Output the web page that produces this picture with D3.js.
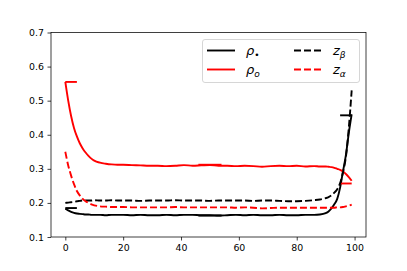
<!DOCTYPE html>
<html>
<head>
<meta charset="utf-8">
<script src="https://cdn.jsdelivr.net/npm/d3@7"></script>
<style>
  body { margin: 0; background: #fff; }
  svg { display: block; }
  .tick text { font-family: "DejaVu Sans", sans-serif; font-size: 9.4px; fill: #000; }
  .leg text { font-family: "DejaVu Sans", sans-serif; font-style: italic; font-size: 13px; }
</style>
</head>
<body>
<div id="chart"></div>
<script>
// sample positions (step index)
const xs = [0,1,2,3,4,5,6,7,8,9,10,12,14,16,18,20,23,26,29,32,35,38,41,44,47,50,53,56,59,62,65,68,71,74,77,80,83,86,88,90,91,92,93,94,95,96,97,98,99];

const rhoStar = [0.183,0.178,0.174,0.171,0.169,0.168,0.167,0.166,0.166,0.165,0.165,0.165,0.164,0.165,0.165,0.165,0.164,0.165,0.164,0.164,0.165,0.164,0.165,0.165,0.164,0.164,0.163,0.164,0.165,0.164,0.165,0.164,0.164,0.165,0.164,0.164,0.165,0.165,0.166,0.170,0.175,0.184,0.196,0.212,0.245,0.293,0.340,0.405,0.460];
const rhoO = [0.555,0.500,0.455,0.420,0.395,0.375,0.360,0.348,0.338,0.330,0.324,0.318,0.315,0.313,0.312,0.312,0.311,0.310,0.309,0.309,0.308,0.309,0.311,0.309,0.310,0.311,0.309,0.309,0.308,0.309,0.308,0.306,0.308,0.309,0.308,0.309,0.307,0.308,0.307,0.307,0.306,0.305,0.303,0.300,0.297,0.292,0.285,0.276,0.265];
const zBeta = [0.200,0.201,0.202,0.203,0.205,0.206,0.207,0.207,0.207,0.207,0.208,0.207,0.207,0.208,0.207,0.207,0.207,0.206,0.207,0.207,0.207,0.208,0.207,0.207,0.207,0.206,0.207,0.207,0.207,0.207,0.206,0.207,0.207,0.206,0.205,0.205,0.206,0.208,0.210,0.214,0.217,0.222,0.230,0.240,0.258,0.290,0.335,0.420,0.530];
const zAlpha = [0.350,0.310,0.280,0.255,0.235,0.222,0.212,0.205,0.200,0.196,0.193,0.190,0.189,0.188,0.188,0.188,0.187,0.187,0.187,0.187,0.187,0.188,0.187,0.187,0.187,0.187,0.187,0.187,0.186,0.187,0.186,0.184,0.185,0.186,0.186,0.186,0.186,0.186,0.186,0.186,0.186,0.186,0.186,0.187,0.187,0.188,0.190,0.192,0.195];

// short level marks at start / middle / end
const segStart = [0, 46, 95];
const segEnd = [4, 54, 99];
const rhoStarSeg = [0.185, 0.163, 0.457];
const rhoOSeg = [0.555, 0.312, 0.257];

const xTicks = [0, 20, 40, 60, 80, 100];
const yTicks = [0.1, 0.2, 0.3, 0.4, 0.5, 0.6, 0.7];

const W = 407, H = 271;
const m = {left: 51, right: 41, top: 32.5, bottom: 34};

const svg = d3.select("#chart").append("svg")
  .attr("width", W).attr("height", H);

const x = d3.scaleLinear().domain([-4.95, 103.95]).range([m.left, W - m.right]);
const y = d3.scaleLinear().domain([0.1, 0.7]).range([H - m.bottom, m.top]);

const series = [
  {key: "rhoStar", vals: rhoStar, color: "#000", dash: null, seg: rhoStarSeg},
  {key: "rhoO", vals: rhoO, color: "#f00", dash: null, seg: rhoOSeg},
  {key: "zBeta", vals: zBeta, color: "#000", dash: "7,3"},
  {key: "zAlpha", vals: zAlpha, color: "#f00", dash: "7,3"}
];

const line = d3.line()
  .x((d) => x(d[0]))
  .y((d) => y(d[1]))
  .curve(d3.curveMonotoneX);

const plot = svg.append("g");

series.forEach((s) => {
  plot.append("path")
    .attr("d", line(xs.map((v, i) => [v, s.vals[i]])))
    .attr("fill", "none")
    .attr("stroke", s.color)
    .attr("stroke-width", 1.9)
    .attr("stroke-dasharray", s.dash);
  if (s.seg) {
    s.seg.forEach((v, i) => {
      plot.append("line")
        .attr("x1", x(segStart[i])).attr("x2", x(segEnd[i]))
        .attr("y1", y(v)).attr("y2", y(v))
        .attr("stroke", s.color)
        .attr("stroke-width", 1.9);
    });
  }
});

// axes
const gx = svg.append("g")
  .attr("transform", `translate(0,${H - m.bottom})`)
  .call(d3.axisBottom(x).tickValues(xTicks).tickSize(3.5).tickPadding(3.5));
const gy = svg.append("g")
  .attr("transform", `translate(${m.left},0)`)
  .call(d3.axisLeft(y).tickValues(yTicks).tickFormat(d3.format(".1f")).tickSize(3.5).tickPadding(3.5));
[gx, gy].forEach((g) => {
  g.select(".domain").remove();
  g.selectAll(".tick line").attr("stroke", "#000").attr("stroke-width", 0.75);
});

svg.append("rect")
  .attr("x", m.left).attr("y", m.top)
  .attr("width", W - m.left - m.right).attr("height", H - m.top - m.bottom)
  .attr("fill", "none").attr("stroke", "#000").attr("stroke-width", 0.75);

// legend
const leg = svg.append("g").attr("class", "leg");
leg.append("rect")
  .attr("x", 202.5).attr("y", 39.5).attr("width", 157).attr("height", 43)
  .attr("rx", 2.5)
  .attr("fill", "#fff").attr("fill-opacity", 0.8)
  .attr("stroke", "#ccc").attr("stroke-width", 0.8);

const legItems = [
  {s: series[0], col: 0, row: 0, base: "ρ", sub: "•", upright: true},
  {s: series[1], col: 0, row: 1, base: "ρ", sub: "o"},
  {s: series[2], col: 1, row: 0, base: "z", sub: "β"},
  {s: series[3], col: 1, row: 1, base: "z", sub: "α"}
];
const colX = [207, 294];
const rowY = [50.5, 69.5];

legItems.forEach((d) => {
  const lx = colX[d.col], ly = rowY[d.row];
  leg.append("line")
    .attr("x1", lx).attr("x2", lx + 28)
    .attr("y1", ly).attr("y2", ly)
    .attr("stroke", d.s.color).attr("stroke-width", 1.9)
    .attr("stroke-dasharray", d.s.dash);
  const t = leg.append("text")
    .attr("x", lx + 39).attr("y", ly + 4)
    .attr("fill", "#000");
  t.append("tspan").text(d.base);
  t.append("tspan").attr("dy", 3).attr("font-size", "9px")
    .attr("font-style", d.upright ? "normal" : "italic").text(d.sub);
});
</script>
</body>
</html>
